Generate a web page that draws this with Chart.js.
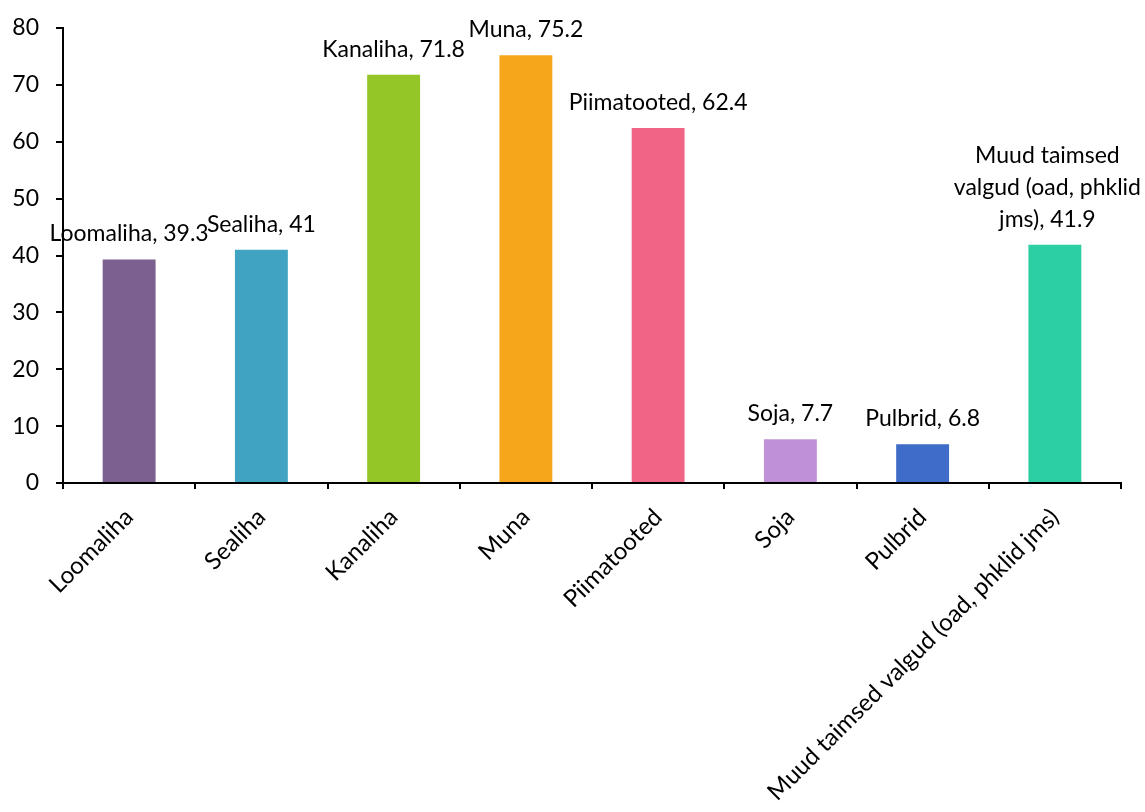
<!DOCTYPE html>
<html>
<head>
<meta charset="utf-8">
<script src="https://cdn.jsdelivr.net/npm/chart.js@4.4.1/dist/chart.umd.min.js"></script>
<style>
  html, body { margin: 0; padding: 0; background: #fff; }
  #wrap { width: 1145px; height: 812px; }
</style>
</head>
<body>
<div id="wrap"><canvas id="grafik" width="1145" height="812"></canvas></div>
<script>
// andmed
const kategooriad = ['Loomaliha', 'Sealiha', 'Kanaliha', 'Muna', 'Piimatooted', 'Soja', 'Pulbrid', 'Muud taimsed valgud (oad, phklid jms)'];
const vaartused = [39.3, 41, 71.8, 75.2, 62.4, 7.7, 6.8, 41.9];
const varvid = ['#7C6190', '#40A3C1', '#93C626', '#F5A61A', '#F06585', '#BF90D8', '#3E6CC8', '#2CCFA4'];
const yTicks = [0, 10, 20, 30, 40, 50, 60, 70, 80];

const FONT = 'Lato, "Open Sans", sans-serif';
const FSIZE = 23;
const WRAP = 215;

function murra(ctx, tekst, maxW) {
  const sonad = tekst.split(' ');
  const read = [];
  let rida = '';
  sonad.forEach(s => {
    const proov = rida ? rida + ' ' + s : s;
    if (ctx.measureText(proov).width > maxW && rida) {
      read.push(rida);
      rida = s;
    } else {
      rida = proov;
    }
  });
  if (rida) read.push(rida);
  return read;
}

// andmesildid tulpade kohal
const sildid = {
  id: 'sildid',
  afterDatasetsDraw(chart) {
    const ctx = chart.ctx;
    const meta = chart.getDatasetMeta(0);
    ctx.save();
    ctx.font = FSIZE + 'px ' + FONT;
    ctx.fillStyle = '#000';
    ctx.textAlign = 'center';
    ctx.textBaseline = 'alphabetic';
    meta.data.forEach((bar, i) => {
      const tekst = kategooriad[i] + ', ' + vaartused[i];
      const read = ctx.measureText(tekst).width > WRAP ? murra(ctx, tekst, WRAP) : [tekst];
      const lh = 32;
      // ära lase sildil lõuendist välja minna
      const laius = Math.max(...read.map(r => ctx.measureText(r).width));
      let x = bar.x;
      if (x + laius / 2 > chart.width - 4) x = chart.width - 4 - laius / 2;
      read.forEach((r, j) => {
        ctx.fillText(r, x, bar.y - 18 - (read.length - 1 - j) * lh);
      });
    });
    ctx.restore();
  }
};

new Chart(document.getElementById('grafik'), {
  type: 'bar',
  data: {
    labels: kategooriad,
    datasets: [{
      data: vaartused,
      backgroundColor: varvid,
      borderWidth: 0,
      barPercentage: 0.4,
      categoryPercentage: 1
    }]
  },
  options: {
    responsive: false,
    animation: false,
    layout: { padding: { top: 28, right: 24, left: 0, bottom: 0 } },
    plugins: { legend: { display: false }, tooltip: { enabled: false } },
    scales: {
      x: {
        grid: { drawOnChartArea: false, drawTicks: true, tickLength: 6, color: '#000', lineWidth: 2, offset: true },
        border: { color: '#000', width: 2 },
        ticks: { color: '#000', font: { family: FONT, size: 24 }, minRotation: 45, maxRotation: 45, padding: 14, autoSkip: false },
        afterFit(s) { s.height = 329; }
      },
      y: {
        min: 0, max: 80,
        afterBuildTicks(s) { s.ticks = yTicks.map(v => ({ value: v })); },
        grid: { drawOnChartArea: false, drawTicks: true, tickLength: 7, color: '#000', lineWidth: 2 },
        border: { color: '#000', width: 2 },
        ticks: { color: '#000', font: { family: FONT, size: FSIZE }, padding: 17 },
        afterFit(s) { s.width = 63; s.paddingTop = 0; }
      }
    }
  },
  plugins: [sildid]
});
</script>
</body>
</html>
